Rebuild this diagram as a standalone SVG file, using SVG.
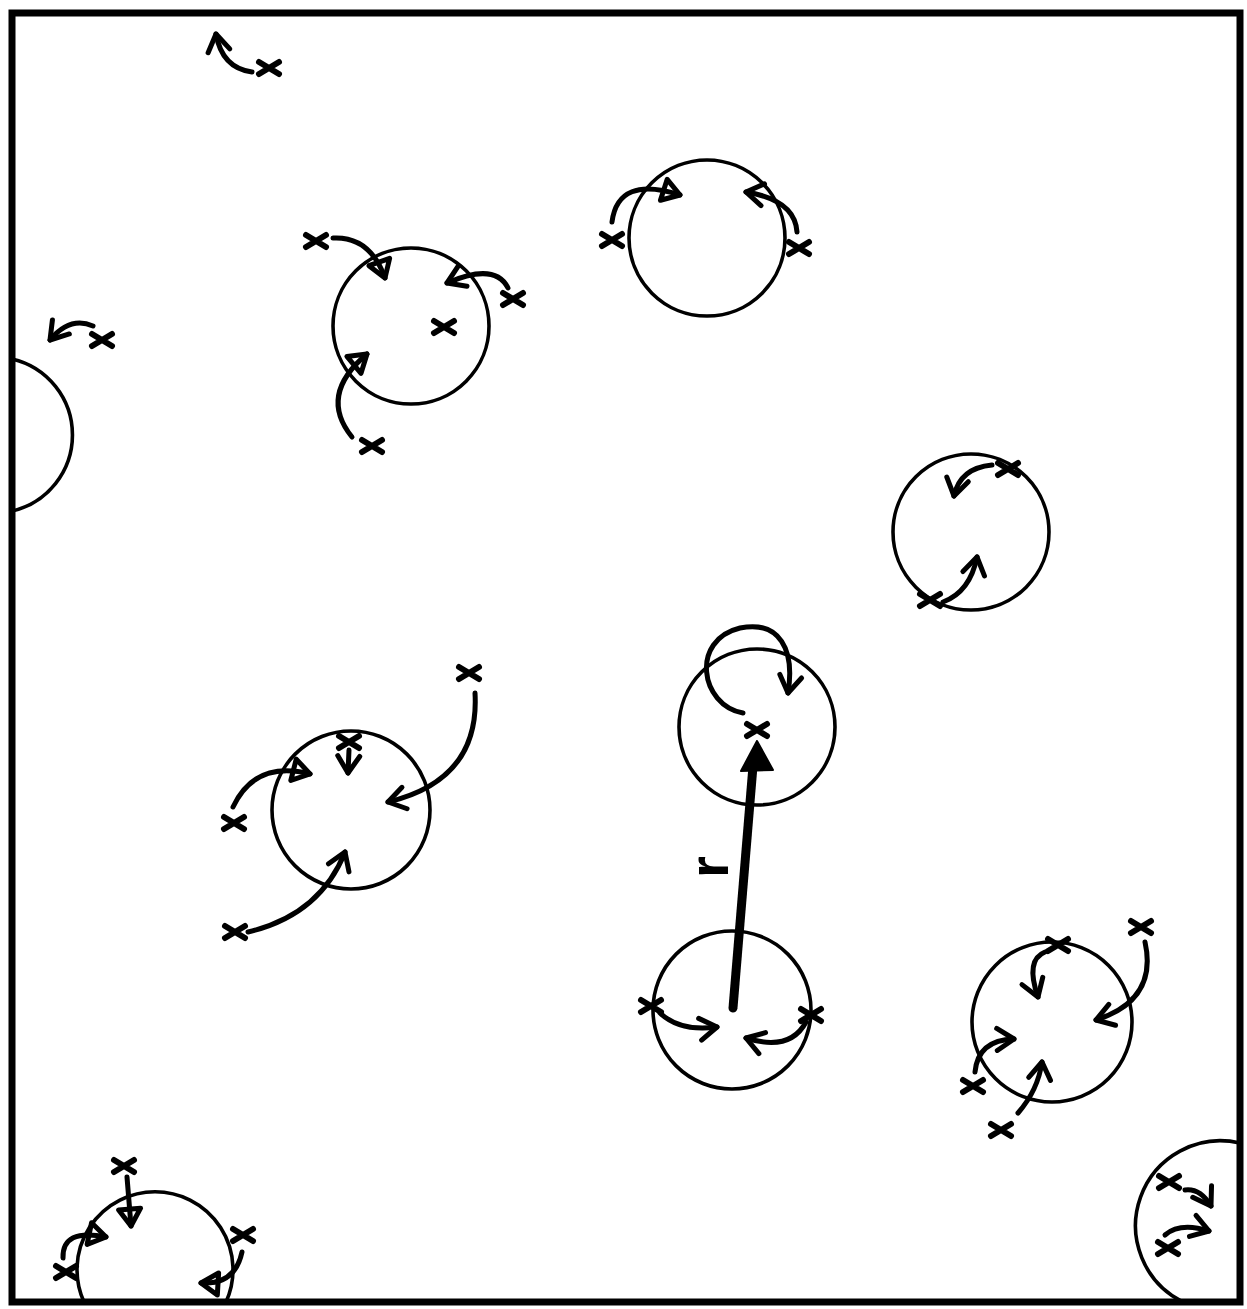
<svg xmlns="http://www.w3.org/2000/svg" xmlns:xlink="http://www.w3.org/1999/xlink" width="1247" height="1309" viewBox="0 0 1247 1309">
<style>
.c{fill:none;stroke:#000;stroke-width:3.6}
.a{fill:none;stroke:#000;stroke-width:5;stroke-linecap:round}
.av{marker-end:url(#v)}
.at{marker-end:url(#t)}
.x{fill:none;stroke:#000;stroke-width:6;stroke-linecap:round}
</style>
<defs>
<marker id="v" markerUnits="userSpaceOnUse" markerWidth="40" markerHeight="40" viewBox="-20 -20 40 40" refX="0" refY="0" orient="auto" overflow="visible"><path d="M-17,-11 L0,0 L-17,11" fill="none" stroke="#000" stroke-width="5" stroke-linejoin="round" stroke-linecap="round"/></marker>
<marker id="t" markerUnits="userSpaceOnUse" markerWidth="40" markerHeight="40" viewBox="-20 -20 40 40" refX="0" refY="0" orient="auto" overflow="visible"><path d="M-17,-11 L0,0 L-17,11 Z" fill="none" stroke="#000" stroke-width="5" stroke-linejoin="round" stroke-linecap="round"/></marker>
<path id="xm" d="M-10,-6 L10,6 M-10,6 L10,-6"/>
</defs>
<rect x="12" y="13" width="1228" height="1289" fill="#fff" stroke="#000" stroke-width="7"/>

<g id="circle-1"><circle class="c" cx="411" cy="326" r="78"/></g>
<g id="circle-2"><circle class="c" cx="707" cy="238" r="78"/></g>
<g id="circle-3"><path class="c" d="M12,359 A78,78 0 0 1 12,511"/></g>
<g id="circle-4"><circle class="c" cx="971" cy="532" r="78"/></g>
<g id="circle-5"><circle class="c" cx="757" cy="727" r="78"/></g>
<g id="circle-6"><circle class="c" cx="351" cy="810" r="79"/></g>
<g id="circle-7"><circle class="c" cx="732" cy="1010" r="79"/></g>
<g id="circle-8"><circle class="c" cx="1052" cy="1022" r="80"/></g>
<g id="circle-9"><path class="c" d="M84,1302 A78,78 0 1 1 226,1302"/></g>
<g id="circle-10"><path class="c" d="M1240,1143 A85,85 0 0 0 1183,1302"/></g>

<g id="points" class="x">
<use xlink:href="#xm" x="269" y="68"/>
<use xlink:href="#xm" x="102" y="340"/>
<use xlink:href="#xm" x="444" y="327"/>
<use xlink:href="#xm" x="316" y="241"/>
<use xlink:href="#xm" x="513" y="299"/>
<use xlink:href="#xm" x="372" y="446"/>
<use xlink:href="#xm" x="612" y="240"/>
<use xlink:href="#xm" x="799" y="248"/>
<use xlink:href="#xm" x="1008" y="469"/>
<use xlink:href="#xm" x="930" y="600"/>
<use xlink:href="#xm" x="757" y="730"/>
<use xlink:href="#xm" x="469" y="673"/>
<use xlink:href="#xm" x="234" y="823"/>
<use xlink:href="#xm" x="349" y="742"/>
<use xlink:href="#xm" x="235" y="932"/>
<use xlink:href="#xm" x="651" y="1006"/>
<use xlink:href="#xm" x="811" y="1015"/>
<use xlink:href="#xm" x="1058" y="945"/>
<use xlink:href="#xm" x="1141" y="927"/>
<use xlink:href="#xm" x="973" y="1086"/>
<use xlink:href="#xm" x="1001" y="1130"/>
<use xlink:href="#xm" x="124" y="1166"/>
<use xlink:href="#xm" x="243" y="1235"/>
<use xlink:href="#xm" x="66" y="1272"/>
<use xlink:href="#xm" x="1169" y="1182"/>
<use xlink:href="#xm" x="1168" y="1248"/>
</g>

<g id="connectors">
<path class="a av" d="M252,72 Q222,68 216,34"/>
<path class="a av" d="M93,326 Q70,316 50,340"/>
<path class="a at" d="M333,238 Q370,236 385,278"/>
<path class="a av" d="M508,288 Q495,262 447,283"/>
<path class="a at" d="M352,437 Q318,395 367,354"/>
<path class="a at" d="M612,222 Q618,175 680,195"/>
<path class="a av" d="M797,232 Q795,200 746,192"/>
<path class="a av" d="M992,465 Q960,468 954,496"/>
<path class="a av" d="M943,602 Q970,592 977,557"/>
<path class="a av" d="M743,713 C700,705 690,640 740,628 C780,620 795,650 788,693"/>
<path class="a av" d="M475,693 Q480,780 388,802"/>
<path class="a at" d="M233,807 Q255,760 310,774"/>
<path class="a av" d="M349,750 L348,773"/>
<path class="a av" d="M248,932 Q320,915 345,852"/>
<path class="a av" d="M660,1013 Q680,1032 717,1027"/>
<path class="a av" d="M806,1022 Q790,1052 746,1038"/>
<path class="a av" d="M1045,952 Q1025,960 1038,997"/>
<path class="a av" d="M1145,942 Q1158,1000 1096,1020"/>
<path class="a av" d="M975,1072 Q978,1040 1014,1039"/>
<path class="a av" d="M1018,1113 Q1038,1090 1042,1062"/>
<path class="a at" d="M127,1177 L131,1226"/>
<path class="a at" d="M242,1252 Q235,1285 201,1283"/>
<path class="a at" d="M63,1258 Q62,1228 106,1237"/>
<path class="a av" d="M1185,1190 Q1200,1188 1211,1206"/>
<path class="a av" d="M1165,1235 Q1180,1222 1209,1231"/>
<g id="r-vector">
<line x1="733" y1="1008" x2="753" y2="766" stroke="#000" stroke-width="9" stroke-linecap="round"/>
<polygon points="757,741 741,771 773,770" fill="#000" stroke="#000" stroke-width="2" stroke-linejoin="round"/>
</g>
</g>
<text transform="translate(728,878) rotate(-90)" font-family="Liberation Sans, Arial, sans-serif" font-weight="bold" font-size="56">r</text>
</svg>
